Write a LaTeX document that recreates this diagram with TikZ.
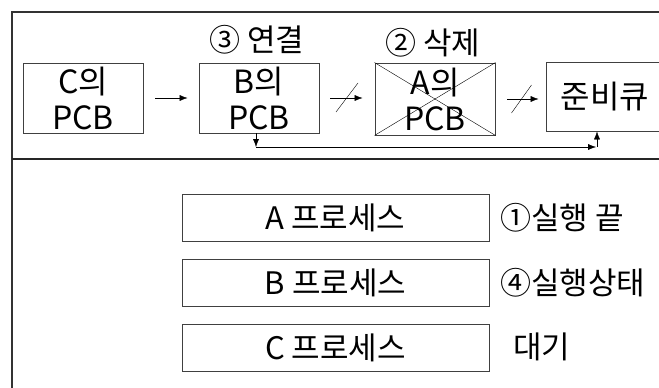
\documentclass[tikz,border=0pt]{standalone}
\usepackage{fontspec}
\setmainfont{Noto Sans CJK KR}
\usetikzlibrary{calc,arrows.meta}

\begin{document}
\begin{tikzpicture}[x=1pt,y=-1pt,>={Latex[length=8pt,width=6pt]},
    pcb/.style={draw=black!75,line width=0.9pt,minimum width=120pt,minimum height=70pt,
      inner sep=0pt,align=center,font=\fontsize{32}{36}\selectfont},
    proc/.style={draw=black!75,line width=0.9pt,minimum width=307pt,minimum height=47pt,
      inner sep=0pt,font=\fontsize{31}{34}\selectfont},
    lbl/.style={inner sep=0pt,font=\fontsize{31}{34}\selectfont}]
  \useasboundingbox (0,0) rectangle (659,388);
  \clip (0,0) rectangle (659,388);
  % frame
  \draw[line width=1.2pt,black!80] (12,388) -- (12,12) -- (659,12);
  \draw[line width=1.2pt,black!85] (12,159) -- (659,159);
  % ready queue
  \node[pcb] (C) at (83,98) {C의\\PCB};
  \node[pcb] (B) at (259,98) {B의\\PCB};
  \node[pcb,minimum height=72pt] (A) at (435,99) {A의\\PCB};
  \node[pcb,minimum width=118pt,minimum height=69pt] (Q) at (605,96.5) {준비큐};
  \draw (A.north west) -- (A.south east);
  \draw (A.south west) -- (A.north east);
  \node[lbl] (link) at (257,40) {③ 연결};
  \node[lbl] (del) at (433,43) {② 삭제};
  \draw[->,shorten <=12pt,shorten >=11pt] (C) -- (B);
  \draw[->,shorten <=11pt,shorten >=12pt] (B.east) -- (B.east -| A.west) coordinate[midway] (s1);
  \draw ($(s1)+(-11,14)$) -- ($(s1)+(11,-15)$);
  \draw[->,shorten <=12pt,shorten >=7pt] (A.east) -- (A.east -| Q.west) coordinate[midway] (s2);
  \draw ($(s2)+(-9,14)$) -- ($(s2)+(11,-14)$);
  % link back
  \coordinate (fbL) at (256,147);
  \coordinate (fbR) at (597,147);
  \draw[->] (B.south -| fbL) -- (fbL);
  \draw[->,shorten >=1pt] (fbL) -- (fbR);
  \draw[->] (fbR) -- (Q.south -| fbR);
  % processes
  \node[proc] (pA) at (335.5,217.5) {A 프로세스};
  \node[proc] (pB) at (335.5,282.5) {B 프로세스};
  \node[proc] (pC) at (335.5,347.5) {C 프로세스};
  \node[lbl,anchor=west] (sA) at (500,218) {①실행 끝};
  \node[lbl,anchor=west] (sB) at (500,283) {④실행상태};
  \node[lbl,anchor=west] (sC) at (513,347) {대기};
\end{tikzpicture}
\end{document}
